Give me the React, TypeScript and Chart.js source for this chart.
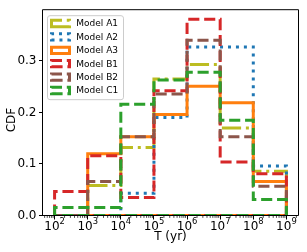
import React, { useEffect, useRef } from 'react';
import { Chart, registerables } from 'chart.js';

Chart.register(...registerables);

// ---- data ----
const binEdges = [1e2, 1e3, 1e4, 1e5, 1e6, 1e7, 1e8, 1e9];
const modelLabels = ['Model A1', 'Model A2', 'Model A3', 'Model B1', 'Model B2', 'Model C1'];
const modelA1 = [0, 0.058, 0.132, 0.265, 0.293, 0.17, 0.086];
const modelA2 = [0, 0, 0.043, 0.19, 0.327, 0.327, 0.096];
const modelA3 = [0, 0.12, 0.153, 0.196, 0.251, 0.219, 0.066];
const modelB1 = [0.0465, 0.116, 0.035, 0.242, 0.381, 0.104, 0.081];
const modelB2 = [0, 0.066, 0.153, 0.236, 0.34, 0.153, 0.057];
const modelC1 = [0.0157, 0.0157, 0.216, 0.263, 0.278, 0.185, 0.031];
const xTickValues = [1e2, 1e3, 1e4, 1e5, 1e6, 1e7, 1e8, 1e9];
const yTickValues = [0, 0.1, 0.2, 0.3];
const xAxisTitle = 'T (yr)';
const yAxisTitle = 'CDF';

// ---- styles ----
const colors = ['#bcbd22', '#1f77b4', '#ff7f0e', '#d62728', '#8c564b', '#2ca02c'];
const LW = 3;
const dashes = [
  [6.4 * LW, 1.6 * LW, 1 * LW, 1.6 * LW],
  [1 * LW, 1.65 * LW],
  [],
  [3.7 * LW, 1.6 * LW],
  [3.7 * LW, 1.6 * LW],
  [3.7 * LW, 1.6 * LW],
];
const FONT = '"DejaVu Sans", "Liberation Sans", sans-serif';

const seriesValues = [modelA1, modelA2, modelA3, modelB1, modelB2, modelC1];

function stepOutline(values: number[]) {
  const pts: { x: number; y: number }[] = [{ x: binEdges[0], y: 0 }];
  values.forEach((v, i) => {
    pts.push({ x: binEdges[i], y: v });
    pts.push({ x: binEdges[i + 1], y: v });
  });
  pts.push({ x: binEdges[binEdges.length - 1], y: 0 });
  pts.push({ x: binEdges[0], y: 0 });
  return pts;
}

const overlay = {
  id: 'overlay',
  afterDatasetsDraw(chart: any) {
    const { ctx, chartArea } = chart;
    const { left, right, top, bottom } = chartArea;
    ctx.save();
    ctx.strokeStyle = '#000';
    ctx.lineWidth = 1;
    ctx.setLineDash([]);
    ctx.beginPath();
    ctx.rect(left - 0.5, top, right - left + 1, bottom - top);
    ctx.stroke();
    ctx.restore();
  },
  afterDraw(chart: any) {
    const { ctx, chartArea } = chart;
    const { left, top, bottom } = chartArea;
    const xs = chart.scales.x;
    ctx.save();
    // minor ticks
    ctx.strokeStyle = '#000';
    ctx.lineWidth = 0.7;
    for (let n = 1; n <= 9; n++) {
      for (let k = 2; k <= 9; k++) {
        const v = k * Math.pow(10, n);
        if (v < xs.min || v > xs.max) continue;
        const px = xs.getPixelForValue(v);
        ctx.beginPath();
        ctx.moveTo(px, bottom);
        ctx.lineTo(px, bottom + 2.4);
        ctx.stroke();
      }
    }
    // x tick labels: 10^n
    ctx.fillStyle = '#000';
    ctx.textBaseline = 'alphabetic';
    ctx.textAlign = 'left';
    xTickValues.forEach((v) => {
      const e = String(Math.round(Math.log10(v)));
      const px = xs.getPixelForValue(v);
      ctx.font = `12px ${FONT}`;
      const w1 = ctx.measureText('10').width;
      ctx.font = `8.4px ${FONT}`;
      const w2 = ctx.measureText(e).width;
      const x0 = px - (w1 + w2) / 2;
      ctx.font = `12px ${FONT}`;
      ctx.fillText('10', x0, bottom + 14.5);
      ctx.font = `8.4px ${FONT}`;
      ctx.fillText(e, x0 + w1, bottom + 8.9);
    });
    // y axis title
    ctx.save();
    ctx.translate(11.5, (chartArea.top + chartArea.bottom) / 2 + 7.5);
    ctx.rotate(-Math.PI / 2);
    ctx.font = `12px ${FONT}`;
    ctx.textAlign = 'center';
    ctx.textBaseline = 'middle';
    ctx.fillStyle = '#000';
    ctx.fillText(yAxisTitle, 0, 0);
    ctx.restore();
    // legend
    const lx = left + 4.5;
    const ly = top + 6;
    const lw = 76;
    const lh = 84;
    const r = 2.5;
    ctx.beginPath();
    ctx.moveTo(lx + r, ly);
    ctx.lineTo(lx + lw - r, ly);
    ctx.quadraticCurveTo(lx + lw, ly, lx + lw, ly + r);
    ctx.lineTo(lx + lw, ly + lh - r);
    ctx.quadraticCurveTo(lx + lw, ly + lh, lx + lw - r, ly + lh);
    ctx.lineTo(lx + r, ly + lh);
    ctx.quadraticCurveTo(lx, ly + lh, lx, ly + lh - r);
    ctx.lineTo(lx, ly + r);
    ctx.quadraticCurveTo(lx, ly, lx + r, ly);
    ctx.closePath();
    ctx.fillStyle = 'rgba(255,255,255,0.8)';
    ctx.fill();
    ctx.strokeStyle = '#cccccc';
    ctx.lineWidth = 1;
    ctx.stroke();
    chart.data.datasets.forEach((ds: any, i: number) => {
      const cy = ly + 7.8 + i * 13.4;
      const hx = lx + 4;
      const hw = 18;
      const hh = 6.3;
      ctx.save();
      ctx.strokeStyle = ds.borderColor;
      ctx.lineWidth = LW;
      ctx.lineJoin = 'miter';
      ctx.lineCap = 'butt';
      ctx.setLineDash(ds.borderDash || []);
      ctx.beginPath();
      ctx.moveTo(hx, cy + hh / 2);
      ctx.lineTo(hx + hw, cy + hh / 2);
      ctx.lineTo(hx + hw, cy - hh / 2);
      ctx.lineTo(hx, cy - hh / 2);
      ctx.closePath();
      ctx.stroke();
      ctx.restore();
      ctx.fillStyle = '#000';
      ctx.font = `9px ${FONT}`;
      ctx.textBaseline = 'middle';
      ctx.textAlign = 'left';
      ctx.fillText(ds.label, lx + 28.8, cy + 0.5);
    });
    ctx.restore();
  },
};

export default function App() {
  const ref = useRef<HTMLCanvasElement>(null);
  useEffect(() => {
    document.body.style.margin = '0';
    const canvas = ref.current!;
    const n = seriesValues.length;
    const chart = new Chart(canvas, {
      type: 'scatter',
      data: {
        datasets: seriesValues.map((vals, i) => ({
          label: modelLabels[i],
          data: stepOutline(vals),
          showLine: true,
          borderColor: colors[i],
          backgroundColor: 'transparent',
          borderWidth: LW,
          borderDash: dashes[i],
          borderJoinStyle: 'miter',
          borderCapStyle: 'butt',
          pointRadius: 0,
          pointHoverRadius: 0,
          fill: false,
          tension: 0,
          clip: 0,
          order: n - 1 - i,
        })) as any,
      },
      options: {
        responsive: false,
        animation: false,
        devicePixelRatio: 1,
        events: [],
        layout: { padding: { top: 6.5, right: 9, left: 0, bottom: 0 } },
        plugins: { legend: { display: false }, tooltip: { enabled: false } },
        scales: {
          x: {
            type: 'logarithmic',
            min: Math.pow(10, 1.65),
            max: Math.pow(10, 9.35),
            afterBuildTicks: (s: any) => {
              s.ticks = xTickValues.map((v) => ({ value: v }));
            },
            afterFit: (s: any) => {
              s.height = 36.5;
            },
            grid: { drawOnChartArea: false, drawTicks: true, tickLength: 4, tickColor: '#000', tickWidth: 1 },
            border: { display: false },
            ticks: { display: false },
            title: {
              display: true,
              text: xAxisTitle,
              color: '#000',
              font: { family: FONT, size: 12 },
              padding: { top: 0, bottom: 8 },
            },
          },
          y: {
            type: 'linear',
            min: 0,
            max: 0.3995,
            afterBuildTicks: (s: any) => {
              s.ticks = yTickValues.map((v) => ({ value: v }));
            },
            afterFit: (s: any) => {
              s.width = 43;
            },
            grid: { drawOnChartArea: false, drawTicks: true, tickLength: 4, tickColor: '#000', tickWidth: 1 },
            border: { display: false },
            ticks: {
              color: '#000',
              font: { family: FONT, size: 12 },
              padding: 2.5,
              callback: (v: any) => Number(v).toFixed(1),
            },
            title: { display: false },
          },
        },
      } as any,
      plugins: [overlay],
    });
    return () => chart.destroy();
  }, []);
  return <canvas ref={ref} width={307} height={252} style={{ display: 'block' }} />;
}
